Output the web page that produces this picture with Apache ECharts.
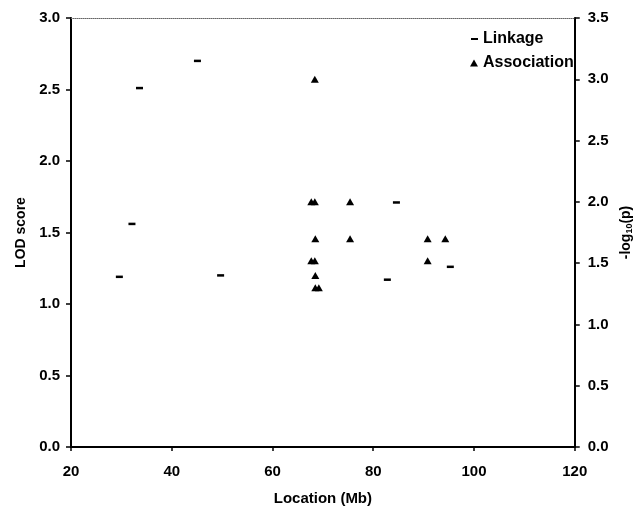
<!DOCTYPE html>
<html>
<head>
<meta charset="utf-8">
<script src="https://cdn.jsdelivr.net/npm/echarts@6/dist/echarts.min.js"></script>
<style>html,body{margin:0;padding:0;background:#fff}#c{width:642px;height:511px}</style>
</head>
<body>
<div id="c"></div>
<script>
// Linkage (LOD score, left axis)
const linkX = [29.6, 32.1, 33.6, 45.1, 49.7, 82.8, 84.6, 95.3];
const linkY = [1.19, 1.56, 2.51, 2.70, 1.20, 1.17, 1.71, 1.26];
// Association (-log10(p), right axis)
const assocX = [68.4, 67.7, 68.4, 75.4, 68.5, 75.4, 90.8, 94.3, 67.7, 68.4, 90.8, 68.5, 68.5, 69.2];
const assocY = [3.0, 2.0, 2.0, 2.0, 1.70, 1.70, 1.70, 1.70, 1.52, 1.52, 1.52, 1.40, 1.30, 1.30];
const xTicks = [20, 40, 60, 80, 100, 120];
const leftTicks = [0, 0.5, 1, 1.5, 2, 2.5, 3];
const rightTicks = [0, 0.5, 1, 1.5, 2, 2.5, 3, 3.5];

const FONT = "'Liberation Sans', Arial, sans-serif";
const lab = {color: '#000', fontFamily: FONT, fontWeight: 'bold', fontSize: 15};
const chart = echarts.init(document.getElementById('c'), null, {renderer: 'canvas'});
chart.setOption({
  animation: false,
  backgroundColor: '#fff',
  grid: {left: 71, right: 63, top: 18, bottom: 62, containLabel: false},
  legend: [
    {data: ['Linkage'], left: 471, top: 31, padding: 0, icon: 'rect', itemWidth: 7, itemHeight: 2,
     itemStyle: {opacity: 1},
     textStyle: {color: '#000', fontFamily: FONT, fontWeight: 'bold', fontSize: 16}},
    {data: ['Association'], left: 470, top: 55, padding: 0, icon: 'triangle', itemWidth: 8, itemHeight: 7,
     itemStyle: {opacity: 1},
     textStyle: {color: '#000', fontFamily: FONT, fontWeight: 'bold', fontSize: 16}}
  ],
  xAxis: [{
    type: 'value', min: xTicks[0], max: xTicks[xTicks.length - 1], interval: 20,
    name: 'Location (Mb)', nameLocation: 'middle', nameGap: 44,
    nameTextStyle: {color: '#000', fontFamily: FONT, fontWeight: 'bold', fontSize: 15},
    axisLine: {show: true, onZero: false, lineStyle: {color: '#000', width: 2}},
    axisTick: {show: true, inside: false, length: 4, lineStyle: {color: '#000', width: 1.5}},
    axisLabel: Object.assign({margin: 17}, lab),
    splitLine: {show: false}
  }, {
    type: 'value', position: 'top', min: xTicks[0], max: xTicks[xTicks.length - 1],
    axisLine: {show: true, onZero: false, lineStyle: {color: '#666', width: 1, type: 'dotted'}},
    axisTick: {show: false}, axisLabel: {show: false}, splitLine: {show: false}
  }],
  yAxis: [{
    type: 'value', min: 0, max: 3, interval: 0.5, position: 'left',
    name: 'LOD score', nameLocation: 'middle', nameGap: 43, nameRotate: 90,
    nameTextStyle: {color: '#000', fontFamily: FONT, fontWeight: 'bold', fontSize: 14},
    axisLine: {show: true, onZero: false, lineStyle: {color: '#000', width: 2}},
    axisTick: {show: true, inside: false, length: 5, lineStyle: {color: '#000', width: 1.5}},
    axisLabel: Object.assign({margin: 11, formatter: v => v.toFixed(1)}, lab),
    splitLine: {show: false}
  }, {
    type: 'value', min: 0, max: 3.5, interval: 0.5, position: 'right',
    name: '-log{s|10}(p)', nameLocation: 'middle', nameGap: 44, nameRotate: 90,
    nameTextStyle: {color: '#000', fontFamily: FONT, fontWeight: 'bold', fontSize: 14,
      rich: {s: {fontFamily: FONT, fontWeight: 'bold', fontSize: 9, verticalAlign: 'bottom', padding: [6, 0, 0, 0]}}},
    axisLine: {show: true, onZero: false, lineStyle: {color: '#000', width: 2}},
    axisTick: {show: true, inside: false, length: 5, lineStyle: {color: '#000', width: 1.5}},
    axisLabel: Object.assign({margin: 13, formatter: v => v.toFixed(1)}, lab),
    splitLine: {show: false}
  }],
  series: [{
    name: 'Linkage', type: 'scatter', xAxisIndex: 0, yAxisIndex: 0,
    symbol: 'rect', symbolSize: [7, 2.5],
    itemStyle: {color: '#000', opacity: 1},
    data: linkX.map((x, i) => [x, linkY[i]])
  }, {
    name: 'Association', type: 'scatter', xAxisIndex: 0, yAxisIndex: 1,
    symbol: 'triangle', symbolSize: [8, 7],
    itemStyle: {color: '#000', opacity: 1},
    data: assocX.map((x, i) => [x, assocY[i]])
  }]
});
</script>
</body>
</html>
